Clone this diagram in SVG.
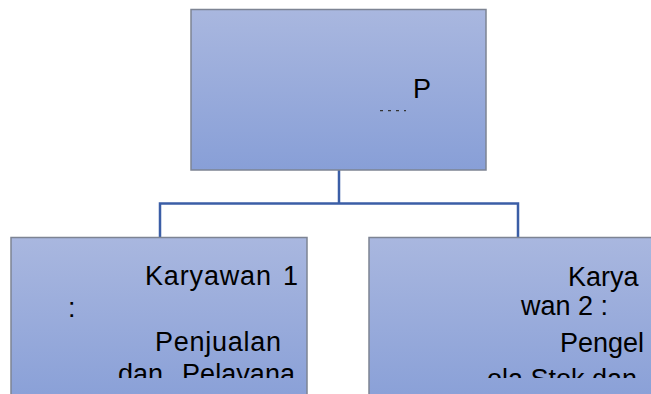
<svg xmlns="http://www.w3.org/2000/svg" width="651" height="394" viewBox="0 0 651 394">
<defs>
<linearGradient id="g" x1="0" y1="0" x2="0" y2="1">
<stop offset="0" stop-color="#a9b7df"/>
<stop offset="1" stop-color="#889fd7"/>
</linearGradient>
<clipPath id="clipL"><rect x="11" y="238" width="296" height="140"/></clipPath>
<clipPath id="clipR"><rect x="369" y="238" width="282" height="140"/></clipPath>
</defs>
<style>
.box{fill:url(#g);stroke:#7d8493;stroke-width:1.5}
.t{font-family:"Liberation Sans",Arial,sans-serif;font-size:27px;fill:#000}
.c{fill:none;stroke:#3b5ea6;stroke-width:2.5}
</style>
<rect width="651" height="394" fill="#fff"/>
<g id="connectors">
<path class="c" d="M339 170V203.5M160 203.5H518M160 202.3V238M518 202.3V238"/>
</g>
<g id="top">
<rect class="box" x="191" y="9.5" width="295" height="160.5"/>
<text class="t" x="413" y="98">P</text>
<path d="M380 110.7H406" stroke="#333" stroke-width="1.3" stroke-dasharray="3 5"/>
</g>
<g id="karyawan1">
<rect x="11" y="237.5" width="296" height="170" fill="url(#g)" stroke="#7d8493" stroke-width="1.5"/>
<g clip-path="url(#clipL)">
<text class="t"><tspan x="145" y="285" textLength="126">Karyawan</tspan><tspan x="283" y="285">1</tspan></text>
<text class="t" x="68" y="317">:</text>
<text class="t" x="155" y="351" textLength="126">Penjualan</text>
<text class="t"><tspan x="118" y="383">dan</tspan><tspan x="182" y="383" textLength="113">Pelayana</tspan></text>
</g>
</g>
<g id="karyawan2">
<rect x="369" y="237.5" width="300" height="170" fill="url(#g)" stroke="#7d8493" stroke-width="1.5"/>
<g clip-path="url(#clipR)">
<text class="t" x="568" y="286">Karya</text>
<text class="t" x="521" y="315">wan 2 :</text>
<text class="t" x="560" y="351.5">Pengel</text>
<text class="t" x="487" y="387.5">ola Stok dan</text>
</g>
</g>
</svg>
